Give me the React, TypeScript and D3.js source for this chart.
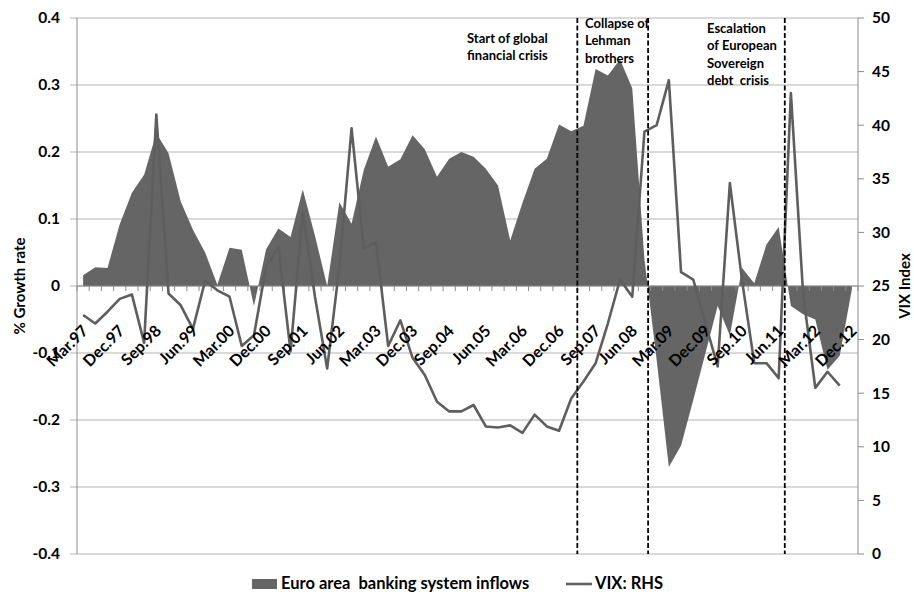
import React from 'react';
import * as d3 from 'd3';

const quarters = [
  "Mar.97", "Jun.97", "Sep.97", "Dec.97", "Mar.98", "Jun.98", "Sep.98", "Dec.98",
  "Mar.99", "Jun.99", "Sep.99", "Dec.99", "Mar.00", "Jun.00", "Sep.00", "Dec.00",
  "Mar.01", "Jun.01", "Sep.01", "Dec.01", "Mar.02", "Jun.02", "Sep.02", "Dec.02",
  "Mar.03", "Jun.03", "Sep.03", "Dec.03", "Mar.04", "Jun.04", "Sep.04", "Dec.04",
  "Mar.05", "Jun.05", "Sep.05", "Dec.05", "Mar.06", "Jun.06", "Sep.06", "Dec.06",
  "Mar.07", "Jun.07", "Sep.07", "Dec.07", "Mar.08", "Jun.08", "Sep.08", "Dec.08",
  "Mar.09", "Jun.09", "Sep.09", "Dec.09", "Mar.10", "Jun.10", "Sep.10", "Dec.10",
  "Mar.11", "Jun.11", "Sep.11", "Dec.11", "Mar.12", "Jun.12", "Sep.12", "Dec.12",
];

// Euro area banking system inflows (% growth rate, LHS)
const inflows = [
  0.016, 0.028, 0.027, 0.092, 0.139, 0.166, 0.228, 0.198,
  0.126, 0.084, 0.05, 0.002, 0.057, 0.054, -0.03, 0.055,
  0.086, 0.073, 0.144, 0.075, 0.0, 0.125, 0.093, 0.173,
  0.223, 0.178, 0.189, 0.225, 0.204, 0.163, 0.19, 0.2,
  0.193, 0.175, 0.15, 0.068, 0.124, 0.175, 0.19, 0.241,
  0.231, 0.239, 0.324, 0.314, 0.338, 0.295, 0.04, -0.11,
  -0.27, -0.238, -0.17, -0.1, -0.03, -0.074, 0.027, 0.004,
  0.062, 0.088, -0.03, -0.042, -0.05, -0.125, -0.104, -0.005,
];

// VIX index (RHS)
const vix = [
  22.3, 21.5, 22.6, 23.8, 24.2, 19.7, 41.0, 24.3,
  23.2, 21.0, 25.5, 24.6, 24.0, 19.4, 20.4, 26.8,
  28.7, 18.9, 31.9, 24.0, 17.3, 26.8, 39.7, 28.5,
  29.1, 19.4, 21.8, 18.3, 16.7, 14.2, 13.3, 13.3,
  13.9, 11.9, 11.8, 12.0, 11.3, 13.0, 11.9, 11.5,
  14.5, 16.1, 17.8, 21.5, 25.6, 24.0, 39.4, 40.0,
  44.2, 26.3, 25.6, 21.5, 17.5, 34.6, 25.5, 17.8,
  17.8, 16.4, 43.0, 24.3, 15.5, 17.0, 15.7,
];

const leftTicks = [0.4, 0.3, 0.2, 0.1, 0, -0.1, -0.2, -0.3, -0.4];
const rightTicks = [0, 5, 10, 15, 20, 25, 30, 35, 40, 45, 50];

// event markers, in category units (between quarters)
const events = [40.5, 46.3, 57.5];
const notes = [
  ["Start of global", "financial crisis"],
  ["Collapse of", "Lehman", "brothers"],
  ["Escalation", "of European", "Sovereign", "debt  crisis"],
];

const FONT = "Lato, 'Open Sans', sans-serif";
const AREA = "#656565";
const LINE = "#5e5e5e";
const GRID = "#b3b3b3";

export default function App() {
  const x = d3.scaleLinear().domain([-0.5, quarters.length - 0.5]).range([77, 858]);
  const yL = d3.scaleLinear().domain([-0.4, 0.4]).range([554, 18]);
  const yR = d3.scaleLinear().domain([0, 50]).range([554, 18]);
  const y0 = yL(0);

  const area = d3.area<number>().x((d, i) => x(i)).y0(y0).y1(d => yL(d));
  const line = d3.line<number>().x((d, i) => x(i)).y(d => yR(d));

  const noteX = [467, 585, 707];
  const noteY = [38, 23, 28];

  return (
    <div style={{ position: 'fixed', left: 0, top: 0 }}>
      <svg width={914} height={592} style={{ display: 'block', background: '#fff' }} fontFamily={FONT}>
        {/* gridlines */}
        {leftTicks.map(t => (
          <line key={t} x1={70} x2={858} y1={yL(t)} y2={yL(t)} stroke={GRID} strokeWidth={1} />
        ))}
        <line x1={77} x2={77} y1={18} y2={554} stroke="#8c8c8c" />
        <line x1={858} x2={858} y1={18} y2={554} stroke="#8c8c8c" />
        {rightTicks.map(t => (
          <line key={t} x1={858} x2={864} y1={yR(t)} y2={yR(t)} stroke="#8c8c8c" />
        ))}

        <path d={area(inflows) || ''} fill={AREA} />

        {/* category axis */}
        <line x1={77} x2={858} y1={y0} y2={y0} stroke="#8c8c8c" />
        {d3.range(quarters.length + 1).map(k => (
          <line key={k} x1={x(k - 0.5)} x2={x(k - 0.5)} y1={y0} y2={y0 + 5} stroke="#8c8c8c" />
        ))}

        <path d={line(vix) || ''} fill="none" stroke={LINE} strokeWidth={2.6} strokeLinejoin="round" />

        {events.map(e => (
          <line key={e} x1={x(e)} x2={x(e)} y1={18} y2={554} stroke="#000" strokeWidth={1.8} strokeDasharray="5,2.5" />
        ))}

        {quarters.map((q, i) => i % 3 === 0 && (
          <text key={q} transform={`translate(${x(i) + 2},${y0 + 42}) rotate(-45)`} textAnchor="end"
            dy="0.35em" fontSize={16} fontWeight="bold" fill="#000">{q}</text>
        ))}

        {leftTicks.map(t => (
          <text key={t} x={60} y={yL(t)} dy="0.35em" textAnchor="end" fontSize={15.5} fontWeight="bold">{t === 0 ? "0" : t.toFixed(1)}</text>
        ))}
        {rightTicks.map(t => (
          <text key={t} x={872} y={yR(t)} dy="0.35em" textAnchor="start" fontSize={15.5} fontWeight="bold">{t}</text>
        ))}

        <text transform={`translate(25,${y0}) rotate(-90)`} textAnchor="middle" fontSize={15} fontWeight="bold">% Growth rate</text>
        <text transform={`translate(910,${y0}) rotate(-90)`} textAnchor="middle" fontSize={15} fontWeight="bold">VIX Index</text>

        {notes.map((lines, n) => (
          <text key={n} fontSize={13} fontWeight="bold">
            {lines.map((l, j) => (
              <tspan key={j} x={noteX[n]} y={noteY[n] + j * 17.5} dy="0.35em" style={{ whiteSpace: 'pre' }}>{l}</tspan>
            ))}
          </text>
        ))}

        {/* legend */}
        <rect x={252} y={579} width={25} height={10} fill={AREA} />
        <text x={281} y={589} fontSize={16.5} fontWeight="bold" style={{ whiteSpace: 'pre' }}>Euro area  banking system inflows</text>
        <line x1={566} x2={592} y1={584} y2={584} stroke={LINE} strokeWidth={2.6} />
        <text x={595} y={589} fontSize={16.5} fontWeight="bold">VIX: RHS</text>
      </svg>
    </div>
  );
}
